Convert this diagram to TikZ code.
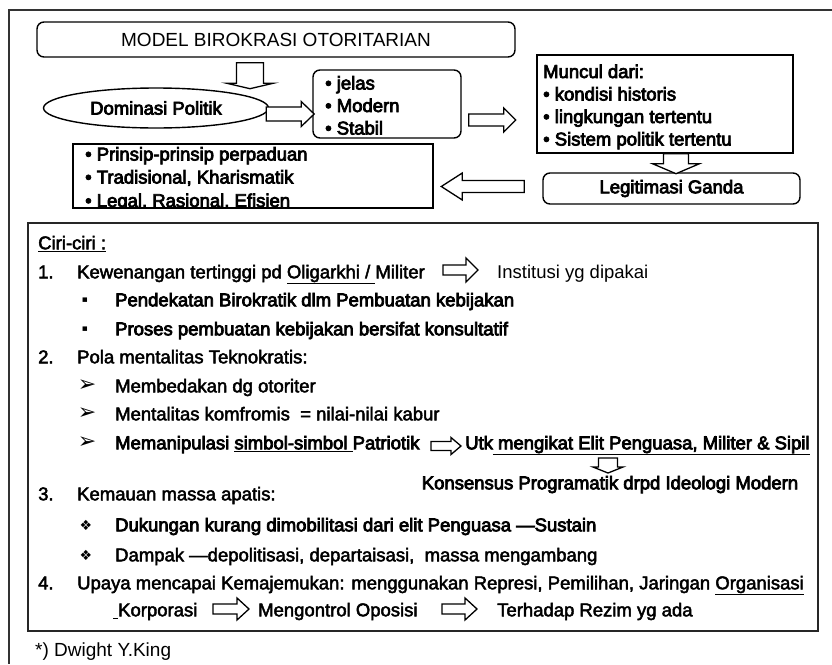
\documentclass[tikz,border=0pt]{standalone}
\usepackage{fontspec}
\setmainfont{Liberation Sans}
\newfontfamily\heavyf[FakeBold=4]{Liberation Sans}
\newfontfamily\midf[FakeBold=2.5]{Liberation Sans}
\newfontfamily\symf{DejaVu Sans}
\usetikzlibrary{shapes.geometric,calc}
\newcommand\fsb{\fontsize{18.5}{22}\selectfont}
\newcommand\fst{\fontsize{19}{23}\selectfont}

\begin{document}
\begin{tikzpicture}[x=1pt,y=-1pt,
  frame/.style={draw=black!80, line width=1.8pt},
  box/.style={draw=black, line width=1.4pt, inner sep=0pt},
  rbox/.style={box, rounded corners=7pt},
  blk/.style={draw=black, fill=white, line width=1.3pt, line join=miter},
  hv/.style={anchor=base west, inner sep=0pt, font=\heavyf\fsb},
  md/.style={anchor=base west, inner sep=0pt, font=\midf\fsb},
  rg/.style={anchor=base west, inner sep=0pt, font=\fsb},
  sym/.style={anchor=center, inner sep=0pt, font=\symf\fontsize{22}{24}\selectfont},
  pics/harrow/.style args={#1/#2/#3/#4}{code={%
    \draw[blk] (0,{-#2}) -- ({#1-#4},{-#2}) -- ({#1-#4},{-#3}) -- (#1,0)
      -- ({#1-#4},#3) -- ({#1-#4},#2) -- (0,#2) -- cycle;}}
]
\useasboundingbox (0,0) rectangle (832,664);
\fill[white] (0,0) rectangle (832,664);

% outer frame (open to the right and bottom)
\draw[frame] (832,10) -- (9,10) -- (9,664);

% ---------- upper scheme ----------
\node[rbox, minimum width=478pt, minimum height=35pt, font=\fst] (title) at (276,39.5)
  {MODEL BIROKRASI OTORITARIAN};

\node[ellipse, draw=black, line width=1.4pt, minimum width=225pt, minimum height=40pt,
  inner sep=0pt, font=\heavyf\fsb] (dom) at (156,108) {Dominasi Politik};

\node[rbox, minimum width=148pt, minimum height=68pt] (jbox) at (387,104) {};
\node[hv] (j1) at (325,89.5) {• jelas};
\node[hv] (j2) at (325,112) {• Modern};
\node[hv] (j3) at (325,134.5) {• Stabil};

\node[box, minimum width=256pt, minimum height=98pt] (mbox) at (665,104) {};
\node[hv] (m1) at (543,78) {Muncul dari:};
\node[hv] (m2) at (543,100.5) {• kondisi historis};
\node[hv] (m3) at (543,123) {• lingkungan tertentu};
\node[hv] (m4) at (543,145.5) {• Sistem politik tertentu};

\node[rbox, minimum width=257pt, minimum height=31pt, font=\heavyf\fsb] (lbox) at (671.5,188.5)
  {Legitimasi Ganda};

\node[box, minimum width=360pt, minimum height=64pt] (pbox) at (253,176) {};
\begin{scope}
  \clip (74,145) rectangle (432,207.3);
  \node[hv] (p1) at (85,160.5) {• Prinsip-prinsip perpaduan};
  \node[hv] (p2) at (85,183.5) {• Tradisional, Kharismatik};
  \node[hv] (p3) at (85,207) {• Legal, Rasional, Efisien};
\end{scope}

% block arrows of the upper scheme
\pic[rotate=-90] at ($(title.south)+(-26,5)$) {harrow=26/13.5/23.5/5.5};
\pic at ($(dom.east)+(-3,6)$) {harrow=48/7/12.5/13};
\pic at ($(jbox.east)+(7,16)$) {harrow=47/6/12/12};
\pic[rotate=-90] at ($(mbox.south)+(11,0)$) {harrow=20/12.5/23.5/10};
\pic[rotate=180] at ($(lbox.west)+(-18,-2)$) {harrow=83/6/13.5/21};

% ---------- characteristics ----------
\node[draw=black!85, line width=2.4pt, minimum width=790pt, minimum height=408pt, inner sep=0pt]
  (cbox) at (423,427) {};

\node[md] (ciri) at (38,249.3) {\underline{Ciri-ciri :}};

\node[md] (n1) at (38,278.3) {1.};
\node[md] (k1) at (77,278.3) {Kewenangan tertinggi pd \underline{Oligarkhi / }Militer};
\pic at (443,270) {harrow=35/5/12/12};
\node[rg] (inst) at (497,278.3) {Institusi yg dipakai};

\node[sym, font=\symf\fontsize{9}{11}\selectfont] (s1) at (85,300) {▪};
\node[hv] (b1) at (115,306.3) {Pendekatan Birokratik dlm Pembuatan kebijakan};
\node[sym, font=\symf\fontsize{9}{11}\selectfont] (s2) at (85,329) {▪};
\node[hv] (b2) at (115,335.3) {Proses pembuatan kebijakan bersifat konsultatif};

\node[md] (n2) at (38,363.3) {2.};
\node[md] (k2) at (77,363.3) {Pola mentalitas Teknokratis:};
\node[sym] (s3) at (87,386) {➢};
\node[md] (c1) at (115,392.3) {Membedakan dg otoriter};
\node[sym] (s4) at (87,414) {➢};
\node[md] (c2) at (115,420.3) {Mentalitas komfromis \ = nilai-nilai kabur};
\node[sym] (s5) at (87,443) {➢};
\node[hv] (c3) at (115,449.3) {Memanipulasi \underline{simbol-simbol }Patriotik};
\pic at (431,446) {harrow=30/4.5/8.5/10};
\node[hv] (utk) at (465,449.3) {Utk\underline{ mengikat Elit Penguasa, Militer \& Sipil}};
\pic[rotate=-90] at (608,458) {harrow=15/9.5/15/6};
\node[hv, anchor=base] (kons) at (610,489.3) {Konsensus Programatik drpd Ideologi Modern};

\node[md] (n3) at (38,500.3) {3.};
\node[md] (k3) at (77,500.3) {Kemauan massa apatis:};
\node[sym, font=\symf\fontsize{14}{16}\selectfont] (s6) at (86,525) {❖};
\node[hv] (d1) at (115,531.3) {Dukungan kurang dimobilitasi dari elit Penguasa —Sustain};
\node[sym, font=\symf\fontsize{14}{16}\selectfont] (s7) at (86,555) {❖};
\node[md] (d2) at (115,561.3) {Dampak —depolitisasi, departaisasi,\ \ massa mengambang};

\node[md] (n4) at (38,589.3) {4.};
\node[md] (k4) at (77,589.3) {Upaya mencapai Kemajemukan: menggunakan Represi, Pemilihan, Jaringan \underline{Organisasi}};
\node[md] (kor) at (113,616.3) {\underline{\hspace{5pt}}Korporasi};
\pic at (213,609) {harrow=36/5/11/12};
\node[md] (opo) at (258,616.3) {Mengontrol Oposisi};
\pic at (442,609) {harrow=35/5/11/12};
\node[md] (rez) at (497,616.3) {Terhadap Rezim yg ada};

% source note
\node[anchor=base west, inner sep=0pt, font=\fst] (foot) at (35,656.5) {*) Dwight Y.King};
\end{tikzpicture}
\end{document}
